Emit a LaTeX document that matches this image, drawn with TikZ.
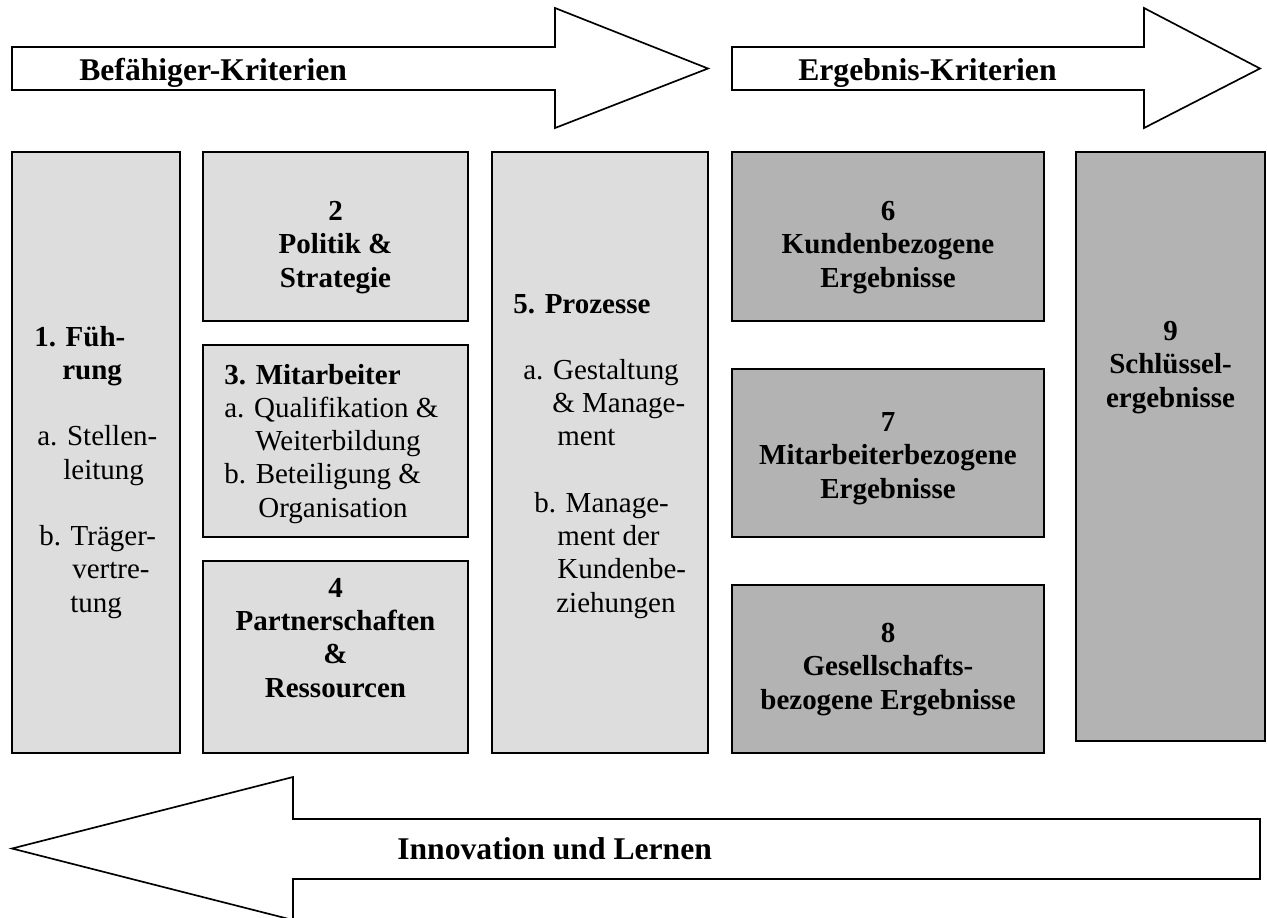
\documentclass[tikz,border=0pt]{standalone}
\usepackage{fontspec}
\setmainfont{Liberation Serif}
\usepackage{tikz}
\usetikzlibrary{positioning}
\usepackage{xcolor}
\definecolor{enablergrey}{RGB}{221,221,221}
\definecolor{resultgrey}{RGB}{179,179,179}

\begin{document}
\begin{tikzpicture}[
    x=0.02cm, y=-0.02cm,
    lightbox/.style={rectangle, draw, line width=1.1pt, fill=enablergrey, inner sep=0pt},
    darkbox/.style={lightbox, fill=resultgrey},
    bigarrow/.style={draw, line width=0.95pt, fill=white, line join=miter},
    arrowtext/.style={font=\bfseries\fontsize{18}{22}\selectfont, inner sep=0pt, anchor=base west},
    itemtext/.style={font=\fontsize{16.5}{18.9}\selectfont, inner sep=0pt, align=left, anchor=base west},
    headtext/.style={font=\bfseries\fontsize{16.5}{18.9}\selectfont, inner sep=0pt, align=center, anchor=base}
]
\useasboundingbox (0,0) rectangle (1267,917);

% Top arrows
\draw[bigarrow] (12,47) -- (555,47) -- (555,8) -- (708,68.5) -- (555,128) -- (555,90) -- (12,90) -- cycle;
\draw[bigarrow] (732,47) -- (1144,47) -- (1144,8) -- (1260,68.5) -- (1144,128) -- (1144,90) -- (732,90) -- cycle;
\node[arrowtext] (befaehiger) at (79,80) {Befähiger-Kriterien};
\node[arrowtext] (ergebnis) at (798,80) {Ergebnis-Kriterien};

% Enabler boxes
\node[lightbox, minimum width=3.36cm, minimum height=12.02cm] (fuehrung) at (96,452.5) {};
\node[lightbox, minimum width=5.30cm, minimum height=3.38cm] (politik) at (335.5,236.5) {};
\node[lightbox, minimum width=5.30cm, minimum height=3.84cm] (mitarb) at (335.5,441) {};
\node[lightbox, minimum width=5.30cm, minimum height=3.84cm] (partner) at (335.5,657) {};
\node[lightbox, minimum width=4.32cm, minimum height=12.02cm] (prozesse) at (600,452.5) {};

% Result boxes
\node[darkbox, minimum width=6.24cm, minimum height=3.38cm] (kunden) at (888,236.5) {};
\node[darkbox, minimum width=6.24cm, minimum height=3.36cm] (mitergeb) at (888,453) {};
\node[darkbox, minimum width=6.24cm, minimum height=3.36cm] (gesell) at (888,669) {};
\node[darkbox, minimum width=3.78cm, minimum height=11.78cm] (schluessel) at (1170.5,446.5) {};

% Box texts (placed at the baseline of their last line)
\node[itemtext] (fuehrungtxt) at (34,612) {\textbf{1. Füh-}\\
  \hspace*{0.56cm}\textbf{rung}\\[18.9pt]
  \hspace*{0.06cm}a. Stellen-\\
  \hspace*{0.58cm}leitung\\[18.9pt]
  \hspace*{0.10cm}b. Träger-\\
  \hspace*{0.76cm}vertre-\\
  \hspace*{0.72cm}tung};
\node[headtext] (politiktxt) at (335.5,287) {2\\Politik \&\\Strategie};
\node[itemtext] (mitarbtxt) at (224,517) {\textbf{3. Mitarbeiter}\\
  a. Qualifikation \&\\
  \hspace*{0.62cm}Weiterbildung\\
  b. Beteiligung \&\\
  \hspace*{0.68cm}Organisation};
\node[headtext] (partnertxt) at (335.5,697) {4\\Partnerschaften\\\&\\Ressourcen};
\node[itemtext] (prozessetxt) at (513,612) {\textbf{5. Prozesse}\\[18.9pt]
  \hspace*{0.20cm}a. Gestaltung\\
  \hspace*{0.78cm}\& Manage-\\
  \hspace*{0.88cm}ment\\[18.9pt]
  \hspace*{0.42cm}b. Manage-\\
  \hspace*{0.88cm}ment der\\
  \hspace*{0.88cm}Kundenbe-\\
  \hspace*{0.86cm}ziehungen};
\node[headtext] (kundentxt) at (888,287) {6\\Kundenbezogene\\Ergebnisse};
\node[headtext] (mitergebtxt) at (888,498) {7\\Mitarbeiterbezogene\\Ergebnisse};
\node[headtext] (geselltxt) at (888,709) {8\\Gesellschafts-\\bezogene Ergebnisse};
\node[headtext] (schluesseltxt) at (1170.5,407) {9\\Schlüssel-\\ergebnisse};

% Bottom arrow
\draw[bigarrow] (1260,819) -- (293,819) -- (293,777) -- (12,848.5) -- (293,920) -- (293,879) -- (1260,879) -- cycle;
\node[arrowtext] (innovation) at (397,859.5) {Innovation und Lernen};

\end{tikzpicture}
\end{document}
